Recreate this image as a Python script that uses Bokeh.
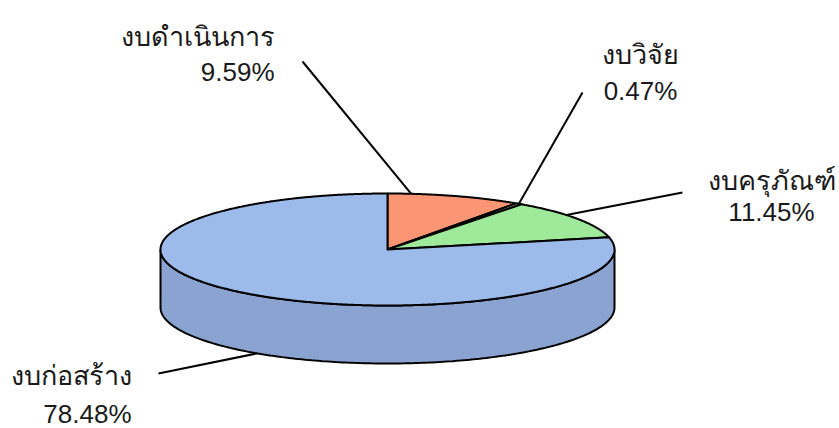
import numpy as np
from bokeh.plotting import figure
from bokeh.models import Range1d
from bokeh.core.properties import value
from bokeh.embed import file_html
from bokeh.resources import INLINE

# ---- data ----
categories = ["งบดำเนินการ", "งบวิจัย", "งบครุภัณฑ์", "งบก่อสร้าง"]
shares = [9.59, 0.47, 11.45, 78.48]
pct_labels = ["9.59%", "0.47%", "11.45%", "78.48%"]

# ---- styling / layout ----
top_colors = ["#FA9674", "#C9D98A", "#9FE99B", "#9DBBEA"]
side_colors = ["#D98366", "#A9B574", "#84C783", "#8BA3D0"]
cx, cy, a, b, depth = 387.0, 249.0, 227.0, 56.0, 58.0

# label layout: (x, y_name_baseline, y_pct_baseline, align)
label_layout = [
    (274, 36, 71, "right"),
    (640, 54, 90, "center"),
    (771, 180, 211, "center"),
    (131, 375, 413, "right"),
]
leader_label_end = [(302, 61), (582, 92), (682, 192), (158, 373)]
leader_anchor_deg = [6.0, None, 52.0, 215.0]  # None -> slice middle
leader_on_side_bottom = [False, False, False, True]

W, H = 839, 428
p = figure(width=W, height=H, output_backend="svg", toolbar_location=None,
           x_range=Range1d(0, W), y_range=Range1d(H, 0),
           min_border=0, outline_line_color=None)
p.axis.visible = False
p.grid.visible = False
p.background_fill_color = "white"
p.border_fill_color = "white"

def ell(theta_deg, dy=0.0):
    t = np.radians(theta_deg)
    return cx + a * np.sin(t), cy - b * np.cos(t) + dy

total = float(sum(shares))
bounds = np.concatenate([[0.0], np.cumsum(shares) / total * 360.0])

# ---- side wall (visible front half: 90..270 deg) ----
for i in range(len(shares)):
    s, e = max(bounds[i], 90.0), min(bounds[i + 1], 270.0)
    if e <= s:
        continue
    th = np.linspace(s, e, 200)
    xt, yt = ell(th)
    xb, yb = ell(th[::-1], depth)
    xs = np.concatenate([xt, xb])
    ys = np.concatenate([yt, yb])
    p.patch(xs, ys, fill_color=side_colors[i], line_color="black", line_width=2)

# ---- top face slices ----
for i in range(len(shares)):
    th = np.linspace(bounds[i], bounds[i + 1], max(4, int((bounds[i + 1] - bounds[i]) * 3)))
    xt, yt = ell(th)
    xs = np.concatenate([[cx], xt])
    ys = np.concatenate([[cy], yt])
    p.patch(xs, ys, fill_color=top_colors[i], line_color="black", line_width=2,
            line_join="round")

# ---- leader lines ----
for i in range(len(shares)):
    ang = leader_anchor_deg[i]
    if ang is None:
        ang = (bounds[i] + bounds[i + 1]) / 2
    ax, ay = ell(ang, depth if leader_on_side_bottom[i] else 0.0)
    lx, ly = leader_label_end[i]
    p.line([lx, ax], [ly, ay], line_color="black", line_width=2)

# ---- labels ----
font = value("Liberation Sans")
for i, (x, yn, yp, al) in enumerate(label_layout):
    p.text(x=[x], y=[yn], text=[categories[i]], text_font=font, text_font_size="27px",
           text_align=al, text_baseline="alphabetic", text_color="#1a1a1a")
    p.text(x=[x], y=[yp], text=[pct_labels[i]], text_font=font, text_font_size="26px",
           text_align=al, text_baseline="alphabetic", text_color="#1a1a1a")

open("out.html", "w").write(file_html(p, INLINE))
